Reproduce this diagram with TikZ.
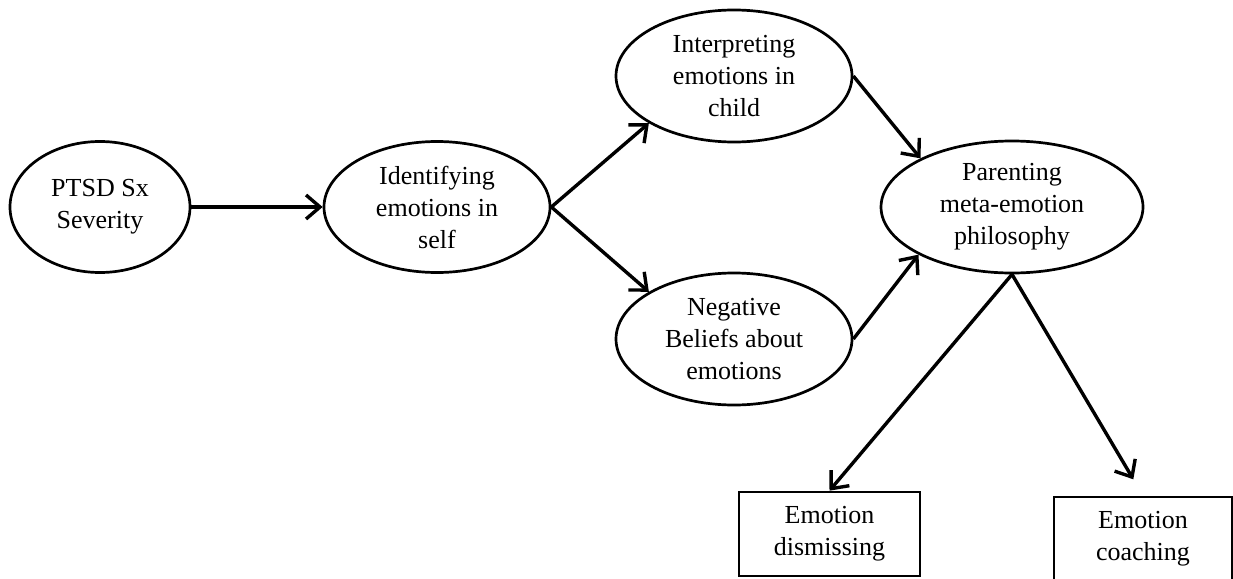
\documentclass[tikz,border=0pt]{standalone}
\usepackage{fontspec}
\setmainfont{Liberation Serif}
\usetikzlibrary{shapes.geometric}
\usetikzlibrary{arrows.meta}
\tikzset{myellipse/.style={draw, ellipse, line width=2.7pt, inner sep=0pt, align=center}}
\tikzset{myrect/.style={draw, rectangle, line width=2.7pt, inner sep=0pt, align=center, minimum width=181pt, minimum height=84pt}}
\tikzset{myarrow/.style={-{Straight Barb[length=14pt, width=24pt, line width=3.4pt]}, line width=3.4pt}}

\begin{document}
\begin{tikzpicture}[x=1pt, y=-1pt, font=\fontsize{26}{32}\selectfont]

\useasboundingbox (0,0) rectangle (1233,578);
\clip (0,0) rectangle (1233,578);

\node[myellipse, minimum width=180pt, minimum height=131pt] (ptsd) at (100, 207) {PTSD Sx\\Severity};
\node[myellipse, minimum width=226pt, minimum height=131pt] (ident) at (437, 207) {Identifying\\emotions in\\self};
\node[myellipse, minimum width=236pt, minimum height=132pt] (interp) at (734, 76) {Interpreting\\emotions in\\child};
\node[myellipse, minimum width=236pt, minimum height=132pt] (negbel) at (734, 339) {Negative\\Beliefs about\\emotions};
\node[myellipse, minimum width=262pt, minimum height=132pt] (parent) at (1012, 207) {Parenting\\meta-emotion\\philosophy};

\node[myrect] (dismiss) at (829.5, 534) {Emotion\\dismissing};
\node[myrect, minimum width=178pt] (coach) at (1143, 539) {Emotion\\coaching};

\draw[myarrow] (ptsd.east) to (ident.west);
\draw[myarrow] (ident.east) to (interp.209);
\draw[myarrow] (ident.east) to (negbel.151);
\draw[myarrow] (interp.east) to (parent.152);
\draw[myarrow] (negbel.east) to (parent.207);
\draw[myarrow] (parent.south) to (dismiss.north);
\draw[myarrow, shorten >=19pt] (parent.south) to (coach.north);

\end{tikzpicture}
\end{document}
